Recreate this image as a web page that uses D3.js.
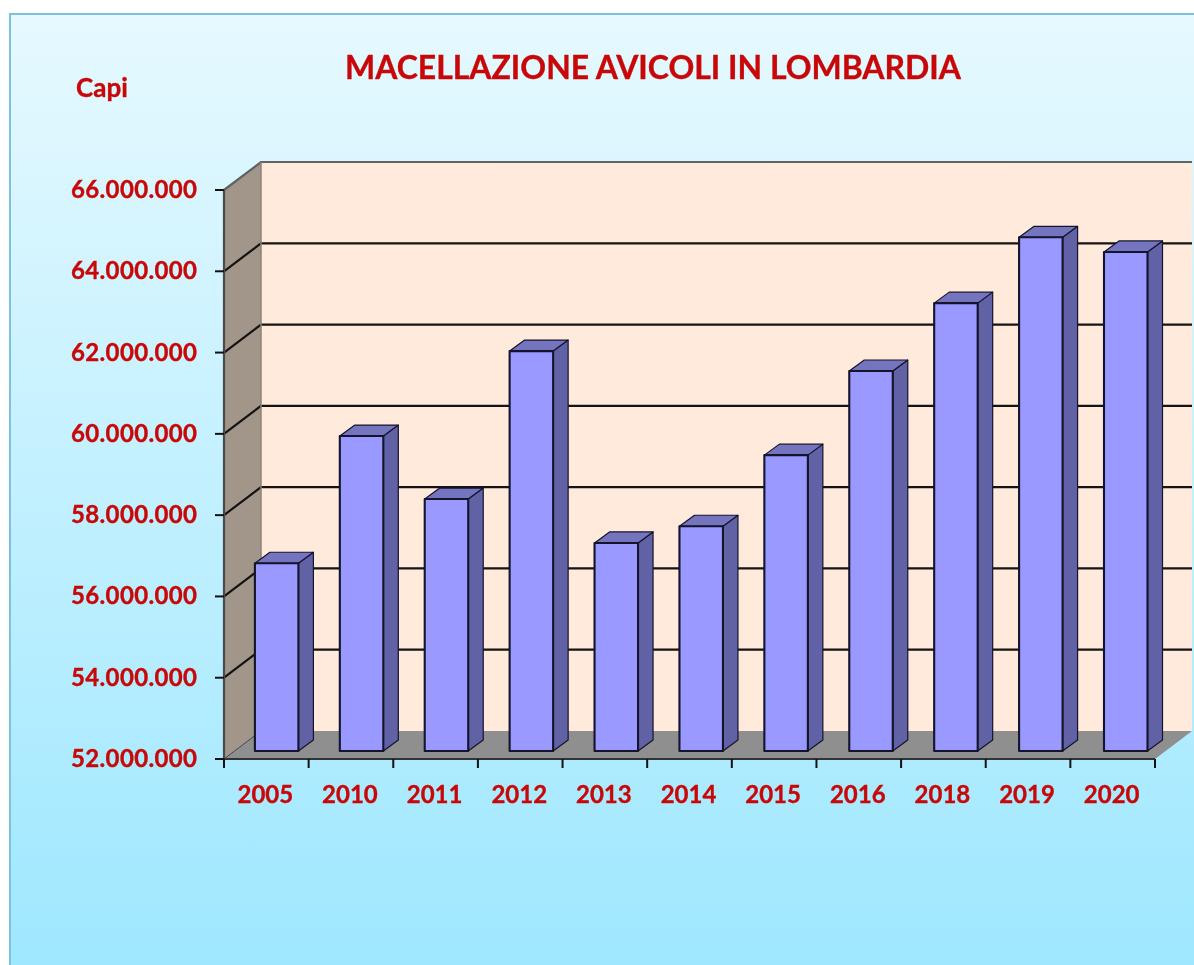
<!DOCTYPE html>
<html><head><meta charset="utf-8">
<script src="https://cdn.jsdelivr.net/npm/d3@7"></script>
<style>html,body{margin:0;padding:0;background:#fff;overflow:hidden}svg{display:block;filter:blur(.6px)}text{font-family:Lato,"Open Sans",sans-serif;font-weight:700;fill:#c80808;stroke:#c80808;stroke-width:.35px}</style>
</head><body><svg id="c" width="1194" height="965"></svg>
<script>
const categories=["2005","2010","2011","2012","2013","2014","2015","2016","2018","2019","2020"];
const values=[56620000,59750000,58200000,61840000,57120000,57530000,59280000,61350000,63020000,64640000,64280000];
const yTicks=[52000000,54000000,56000000,58000000,60000000,62000000,64000000,66000000];
const titleText="MACELLAZIONE AVICOLI IN LOMBARDIA", unitText="Capi";

const svg=d3.select("#c");
const y=d3.scaleLinear().domain([52000000,66000000]).range([759,190]);
const x=d3.scaleBand().domain(categories).range([224,1155]);
const xBar=d3.scaleBand().domain(categories).range([234.2,1168.2]);
const DX=37,DY=-28, bz=.285;
const barW=43.5, bdx=15, bdy=-11;
const fmt=d=>d3.format(",")(d).replace(/,/g,".");
const P=a=>"M"+a.map(p=>p.join(",")).join("L")+"Z";
const line=d3.line();

const defs=svg.append("defs");
const g=defs.append("linearGradient").attr("id","bg").attr("x1",0).attr("y1",0).attr("x2",0).attr("y2",1);
g.append("stop").attr("offset",0).attr("stop-color","#e6f9ff");
g.append("stop").attr("offset",1).attr("stop-color","#9de7ff");

svg.append("rect").attr("x",10).attr("y",14).attr("width",1200).attr("height",970)
  .attr("fill","url(#bg)").attr("stroke","#7cc3d8").attr("stroke-width",2);

const x0=x.range()[0],x1=x.range()[1],yb=y.domain()[0],yt=y.domain()[1];
svg.append("path").attr("d",P([[x0+DX,y(yt)+DY],[x1+DX,y(yt)+DY],[x1+DX,y(yb)+DY],[x0+DX,y(yb)+DY]])).attr("fill","#ffeadb");
svg.append("path").attr("d",P([[x0,y(yt)],[x0+DX,y(yt)+DY],[x0+DX,y(yb)+DY],[x0,y(yb)]])).attr("fill","#a29589");
svg.append("path").attr("d",P([[x0,y(yb)],[x0+DX,y(yb)+DY],[x1+DX,y(yb)+DY],[x1,y(yb)]])).attr("fill","#8f8f8f");
yTicks.slice(1).forEach(t=>{
  const w=t===yt?"#5f6463":"#141414";
  svg.append("path").attr("d",line([[x0,y(t)],[x0+DX,y(t)+DY],[x1+DX,y(t)+DY]])).attr("fill","none").attr("stroke",w).attr("stroke-width",2.2);
});
svg.append("line").attr("x1",x0+DX).attr("x2",x0+DX).attr("y1",y(yt)+DY).attr("y2",y(yb)+DY).attr("stroke","#8d8379").attr("stroke-width",1.5);
svg.append("line").attr("x1",x0).attr("x2",x0+DX).attr("y1",y(yb)).attr("y2",y(yb)+DY).attr("stroke","#444").attr("stroke-width",1);

const bars=svg.append("g").selectAll("g").data(categories.map((c,i)=>({c,v:values[i]}))).join("g");
const fx=d=>xBar(d.c)+(xBar.bandwidth()-barW)/2;
const base=y(yb)+DY*bz, off=y(yb)-base;
const ft=d=>y(d.v)-off;
const st={stroke:"#14142c","stroke-width":2.1,"stroke-linejoin":"round"};
function sty(s){Object.entries(st).forEach(([k,v])=>s.attr(k,v));return s;}
sty(bars.append("path")).attr("fill","#6161a6").attr("stroke-width",1.2).attr("d",d=>P([[fx(d)+barW,ft(d)],[fx(d)+barW+bdx,ft(d)+bdy],[fx(d)+barW+bdx,base+bdy],[fx(d)+barW,base]]));
sty(bars.append("path")).attr("fill","#7474bf").attr("stroke-width",1.2).attr("d",d=>P([[fx(d),ft(d)],[fx(d)+bdx,ft(d)+bdy],[fx(d)+barW+bdx,ft(d)+bdy],[fx(d)+barW,ft(d)]]));
sty(bars.append("rect")).attr("fill","#9999ff").attr("x",fx).attr("y",ft).attr("width",barW).attr("height",d=>base-ft(d));

const axis=svg.append("g");
axis.append("line").attr("x1",x0).attr("x2",x0).attr("y1",y(yt)).attr("y2",y(yb)).attr("stroke","#4a4a4a").attr("stroke-width",2.2);
axis.append("line").attr("x1",x0).attr("x2",x1).attr("y1",y(yb)).attr("y2",y(yb)).attr("stroke","#333").attr("stroke-width",2.2);
yTicks.forEach(t=>{
  axis.append("line").attr("x1",x0-9).attr("x2",x0).attr("y1",y(t)).attr("y2",y(t)).attr("stroke","#111").attr("stroke-width",2);
  axis.append("text").attr("x",197).attr("y",y(t)+8).attr("text-anchor","end").attr("font-size",24).attr("textLength",126).attr("lengthAdjust","spacing").text(fmt(t));
});
categories.concat([null]).forEach((c,i)=>{
  const px=x0+i*x.step();
  axis.append("line").attr("x1",px).attr("x2",px).attr("y1",y(yb)).attr("y2",y(yb)+9).attr("stroke","#111").attr("stroke-width",2);
  if(c) axis.append("text").attr("x",x(c)+x.bandwidth()/2-1).attr("y",803).attr("text-anchor","middle").attr("font-size",24).text(c);
});
svg.append("text").attr("x",653).attr("y",79).attr("text-anchor","middle").attr("font-size",33).attr("textLength",616).attr("lengthAdjust","spacingAndGlyphs").text(titleText);
svg.append("text").attr("x",76).attr("y",97).attr("font-size",26).text(unitText);
</script></body></html>
